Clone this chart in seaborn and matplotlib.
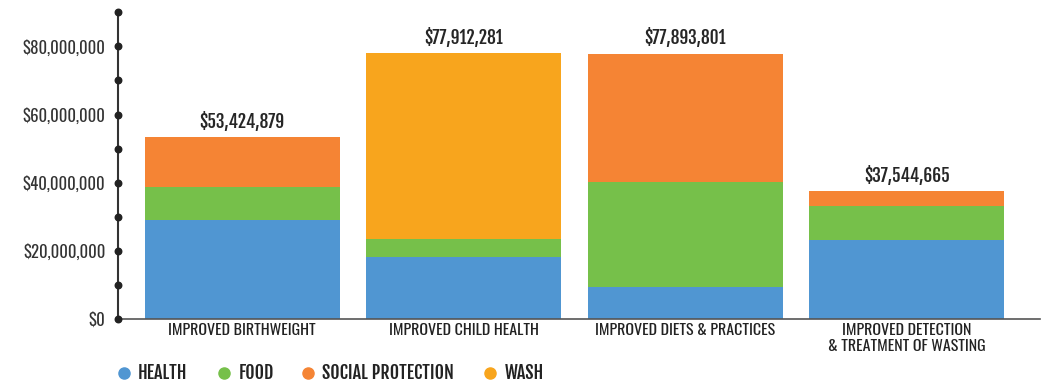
import matplotlib
matplotlib.use("Agg")
import matplotlib.pyplot as plt
from matplotlib.lines import Line2D
import seaborn as sns
import pandas as pd
import numpy as np

categories = ["IMPROVED BIRTHWEIGHT", "IMPROVED CHILD HEALTH",
              "IMPROVED DIETS & PRACTICES", "IMPROVED DETECTION\n& TREATMENT OF WASTING"]
series = ["HEALTH", "FOOD", "SOCIAL PROTECTION", "WASH"]
health = [29.1e6, 18.2e6, 9.4e6, 23.2e6]
food = [9.6e6, 5.3e6, 30.9e6, 10.0e6]
social = [14.724879e6, 0.0, 37.593801e6, 4.344665e6]
wash = [0.0, 54.412281e6, 0.0, 0.0]
totals = [53424879, 77912281, 77893801, 37544665]
total_labels = ["$53,424,879", "$77,912,281", "$77,893,801", "$37,544,665"]
yticks = [0, 20e6, 40e6, 60e6, 80e6]
ytick_labels = ["$0", "$20,000,000", "$40,000,000", "$60,000,000", "$80,000,000"]
colors = {"HEALTH": "#5096D2", "FOOD": "#76C04A",
          "SOCIAL PROTECTION": "#F58434", "WASH": "#F8A51D"}

sns.set_style("white")
FONT = ["Oswald", "DejaVu Sans"]
BOLD = ["Fjalla One", "DejaVu Sans"]
plt.rcParams["font.family"] = FONT

df = pd.DataFrame({"category": categories, "HEALTH": health, "FOOD": food,
                   "SOCIAL PROTECTION": social, "WASH": wash})
cum = df[series].cumsum(axis=1)

fig = plt.figure(figsize=(10.44, 3.84), dpi=100)
ax = fig.add_axes([0.113, 0.169, 0.883, 0.799])

for s in reversed(series):
    sns.barplot(x=df["category"], y=cum[s], color=colors[s], width=0.88,
                saturation=1, ax=ax, linewidth=0, edgecolor="none")

for i, (t, lab) in enumerate(zip(totals, total_labels)):
    ax.text(i, t + 1.5e6, lab, ha="center", va="bottom", fontsize=12.5,
            family=BOLD, color="#262626")

ax.set_xlim(-0.56, 3.6)
ax.set_ylim(0, 90e6)
ax.set_yticks(yticks)
ax.set_yticklabels(ytick_labels, fontsize=12, color="#333333")
ax.set_xticks(range(len(categories)))
ax.set_xticklabels(categories, fontsize=11.5, color="#222222", linespacing=1.05)
ax.tick_params(axis="y", length=0, pad=9)
ax.tick_params(axis="x", length=0, pad=3)
ax.set_xlabel("")
ax.set_ylabel("")
for sp in ["top", "right"]:
    ax.spines[sp].set_visible(False)
ax.spines["left"].set_color("#333333")
ax.spines["left"].set_linewidth(1.5)
ax.spines["bottom"].set_color("#555555")
ax.spines["bottom"].set_linewidth(1.2)

dots = np.arange(0, 90e6 + 1, 10e6)
ax.scatter(np.zeros_like(dots), dots, s=22, color="#222222",
           transform=ax.get_yaxis_transform(), clip_on=False, zorder=5)

# legend (manual layout in figure pixels)
W, H = 1044, 384
marker_x = [124, 224, 308, 490]
text_x = [138, 239, 322, 505]
ly = 373
for s, mx, tx in zip(series, marker_x, text_x):
    fig.add_artist(Line2D([mx / W], [1 - ly / H], marker="o", linestyle="",
                          markersize=8, markerfacecolor=colors[s],
                          markeredgecolor=colors[s], transform=fig.transFigure))
    fig.text(tx / W, 1 - ly / H, s, ha="left", va="center", fontsize=13,
             family=BOLD, color="#222222")

fig.savefig("out.png", dpi=100)
